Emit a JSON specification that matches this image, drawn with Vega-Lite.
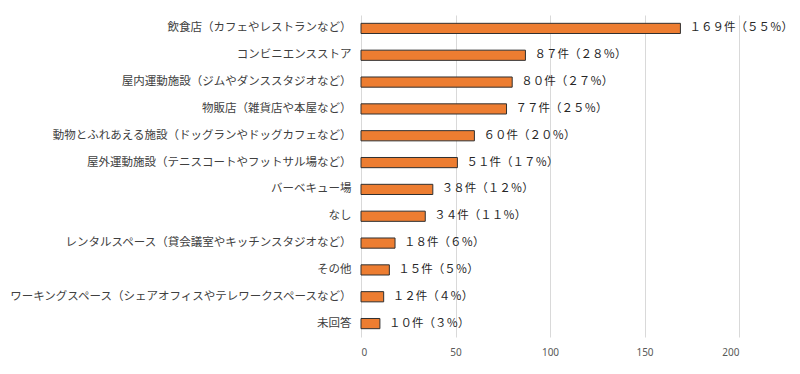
{
  "$schema": "https://vega.github.io/schema/vega-lite/v6.json",
  "autosize": "none",
  "width": 378,
  "height": 322,
  "padding": {"left": 361, "top": 15, "right": 61, "bottom": 37},
  "background": "white",
  "config": {"view": {"stroke": null}, "font": "Noto Sans CJK JP"},
  "data": {"values": [
    {"item": "飲食店（カフェやレストランなど）", "count": 169, "label": "１６９件（５５％）"},
    {"item": "コンビニエンスストア", "count": 87, "label": "８７件（２８％）"},
    {"item": "屋内運動施設（ジムやダンススタジオなど）", "count": 80, "label": "８０件（２７％）"},
    {"item": "物販店（雑貨店や本屋など）", "count": 77, "label": "７７件（２５％）"},
    {"item": "動物とふれあえる施設（ドッグランやドッグカフェなど）", "count": 60, "label": "６０件（２０％）"},
    {"item": "屋外運動施設（テニスコートやフットサル場など）", "count": 51, "label": "５１件（１７％）"},
    {"item": "バーベキュー場", "count": 38, "label": "３８件（１２％）"},
    {"item": "なし", "count": 34, "label": "３４件（１１％）"},
    {"item": "レンタルスペース（貸会議室やキッチンスタジオなど）", "count": 18, "label": "１８件（６％）"},
    {"item": "その他", "count": 15, "label": "１５件（５％）"},
    {"item": "ワーキングスペース（シェアオフィスやテレワークスペースなど）", "count": 12, "label": "１２件（４％）"},
    {"item": "未回答", "count": 10, "label": "１０件（３％）"}
  ]},
  "encoding": {
    "y": {"field": "item", "type": "nominal", "sort": null,
      "scale": {"paddingInner": 0.62, "paddingOuter": 0.31},
      "axis": {"title": null, "domain": false, "ticks": false, "labelPadding": 10, "labelFontSize": 11.5, "labelColor": "#404040", "labelLimit": 400}},
    "x": {"field": "count", "type": "quantitative",
      "scale": {"domain": [0, 200], "nice": false},
      "axis": {"title": null, "values": [0, 50, 100, 150, 200], "domain": false, "ticks": false, "grid": true, "gridColor": "#d9d9d9", "labelFontSize": 10, "labelColor": "#595959", "labelPadding": 10, "labelFont": "Noto Sans"}}
  },
  "layer": [
    {"mark": {"type": "bar", "fill": "#ED7D31", "stroke": "#303030", "strokeWidth": 1}},
    {"mark": {"type": "text", "align": "left", "baseline": "middle", "dx": 9, "fontSize": 11.5, "color": "#262626"},
     "encoding": {"text": {"field": "label"}}}
  ]
}
